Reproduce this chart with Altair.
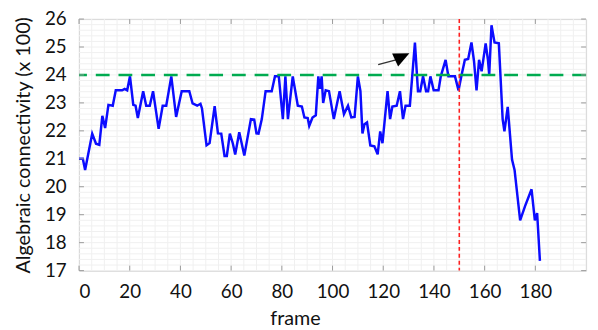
import altair as alt
import pandas as pd

frames = [0, 1.5, 2.4, 5.2, 6.7, 8, 9.2, 10.3, 11.6, 13.3, 14.5, 17, 18, 19, 20.1, 21.4, 22.3, 23.2,
          25.3, 26.5, 27.9, 29.2, 31.4, 33, 34.4, 36.4, 38.3, 40.5, 43.5, 44.8, 46.6, 47.9, 48.5,
          50.3, 51.5, 53.5, 54.8, 56.1, 57.4, 58.3, 59.5, 60.7, 61.6, 63.2, 65.2, 67.8, 69.1, 70,
          70.8, 72.1, 73.6, 76, 77.3, 78.8, 80.4, 81.4, 82.4, 84.3, 86.3, 87.9, 88.9, 90.2, 90.8,
          92.1, 93.4, 94.4, 95, 95.7, 96.3, 97.3, 98.6, 100.5, 102.8, 104.5, 106.1, 107.4, 108.7,
          110, 111, 111.8, 112.6, 113.6, 114.9, 116.5, 117.8, 118.8, 119.7, 121.7, 122.7, 123.6,
          125.3, 126.6, 127.8, 128.8, 130.5, 132.5, 133.7, 134.6, 135.7, 136.9, 137.7, 138.6,
          139.9, 141.8, 142.7, 144.6, 145.7, 148.3, 149.7, 150.8, 152.2, 153.5, 154.8, 155.8,
          156.8, 157.8, 158.8, 160.4, 161.3, 161.8, 162.7, 163.9, 165.6, 167.1, 167.8, 169.1,
          170.8, 171.8, 174, 175.9, 178.5, 179.8, 180.7, 181.8]
values = [21.0, 21.0, 20.6, 21.9, 21.54, 21.5, 22.54, 22.1, 22.93, 22.9, 23.45, 23.45, 23.5, 23.45,
          23.95, 22.93, 22.9, 22.46, 23.42, 22.9, 22.9, 23.42, 22.07, 22.9, 22.9, 23.95, 22.5,
          23.42, 23.42, 22.98, 22.9, 22.97, 22.8, 21.48, 21.56, 22.88, 21.91, 21.9, 21.1, 21.1,
          21.9, 21.54, 21.15, 21.95, 21.12, 22.42, 22.4, 21.91, 21.9, 22.42, 23.42, 23.42, 23.95,
          23.95, 22.42, 23.95, 22.42, 23.95, 22.9, 22.87, 22.48, 22.46, 22.18, 22.48, 22.56,
          23.95, 23.5, 23.95, 23.0, 23.45, 23.42, 22.42, 23.42, 22.6, 22.9, 22.48, 22.5, 23.95,
          23.42, 21.91, 22.24, 22.3, 21.48, 21.45, 21.16, 21.98, 21.56, 23.42, 22.42, 22.87,
          22.9, 23.42, 22.42, 22.9, 22.9, 25.16, 23.42, 23.42, 23.95, 23.42, 23.42, 23.95,
          23.45, 23.45, 23.95, 24.54, 23.95, 23.95, 23.45, 23.95, 24.54, 24.57, 25.16, 24.5,
          23.45, 24.54, 24.13, 25.13, 24.54, 24.0, 25.78, 25.16, 25.13, 22.42, 21.98, 22.86,
          20.97, 20.6, 18.8, 19.3, 19.91, 18.8, 19.06, 17.35]

threshold = [24]
event_frame = [150]
arrow_shaft_x = [118.0, 125.0]
arrow_shaft_y = [24.37, 24.54]
arrow_head_x = [127.5]
arrow_head_y = [24.655]

x_ticks = [0, 20, 40, 60, 80, 100, 120, 140, 160, 180]
y_ticks = [17, 18, 19, 20, 21, 22, 23, 24, 25, 26]
x_grid = list(range(0, 201, 5))
y_grid = [round(17 + 0.2 * k, 1) for k in range(46)]

FONT = "Lato"
xs = alt.Scale(domain=[0, 200], nice=False, zero=False)
ys = alt.Scale(domain=[17, 26], nice=False, zero=False)

x_axis = alt.Axis(values=x_ticks, grid=False, ticks=False, domain=False, labelOverlap=False,
                  labelFont=FONT, labelFontSize=19, labelColor="#111", labelPadding=12,
                  title="frame", titleFont=FONT, titleFontSize=20, titleFontWeight="normal",
                  titleColor="#111", titleX=219, titleY=55, titleBaseline="alphabetic")
y_axis = alt.Axis(values=y_ticks, grid=False, ticks=False, domain=False, labelOverlap=False,
                  labelFont=FONT, labelFontSize=19, labelColor="#111", labelPadding=13,
                  title="Algebraic connectivity (x 100)", titleFont=FONT, titleFontSize=20,
                  titleFontWeight="normal", titleColor="#111", titleX=-56, titleY=127.5,
                  titleAngle=-90, titleBaseline="middle", titleAlign="center")


def X(field):
    return alt.X(field, type="quantitative", scale=xs, axis=x_axis, title="frame")


def Y(field):
    return alt.Y(field, type="quantitative", scale=ys, axis=y_axis,
                 title="Algebraic connectivity (x 100)")


df = pd.DataFrame({"frame": frames, "value": values})

grid_col = "#f0f0f0"
gx = alt.Chart(pd.DataFrame({"g": x_grid})).mark_rule(color=grid_col, strokeWidth=1).encode(
    x=X("g"))
gy = alt.Chart(pd.DataFrame({"g": y_grid})).mark_rule(color=grid_col, strokeWidth=1).encode(
    y=Y("g"))

base = alt.Chart(df).mark_line(color="#0c0cff", strokeWidth=2.5, clip=True).encode(
    x=X("frame"), y=Y("value"))

tick_col = "#9a9a9a"
xt = pd.DataFrame({"t": x_ticks})
yt = pd.DataFrame({"t": y_ticks})
xtb = alt.Chart(xt).mark_rule(color=tick_col, strokeWidth=1).encode(
    x=X("t"), y=alt.value(255), y2=alt.value(250))
xtt = alt.Chart(xt).mark_rule(color=tick_col, strokeWidth=1).encode(
    x=X("t"), y=alt.value(0), y2=alt.value(5))
ytl = alt.Chart(yt).mark_rule(color=tick_col, strokeWidth=1).encode(
    y=Y("t"), x=alt.value(0), x2=alt.value(5))
ytr = alt.Chart(yt).mark_rule(color=tick_col, strokeWidth=1).encode(
    y=Y("t"), x=alt.value(514), x2=alt.value(509))

hline = alt.Chart(pd.DataFrame({"v": threshold})).mark_rule(
    color="#00ab50", strokeWidth=2.6, strokeDash=[14, 9]).encode(y=Y("v"))
vline = alt.Chart(pd.DataFrame({"v": event_frame})).mark_rule(
    color="#ff2020", strokeWidth=1.6, strokeDash=[4, 3]).encode(x=X("v"))

shaft = alt.Chart(pd.DataFrame({"x": arrow_shaft_x, "y": arrow_shaft_y})).mark_line(
    color="#333333", strokeWidth=1.5).encode(x=X("x"), y=Y("y"))
head = alt.Chart(pd.DataFrame({"x": arrow_head_x, "y": arrow_head_y})).mark_point(
    shape="M1,0L-1,-0.9L-1,0.9Z", filled=True, color="#000000", opacity=1, size=256,
    angle=335).encode(x=X("x"), y=Y("y"))

chart = alt.layer(gx, gy, base, hline, vline, xtb, xtt, ytl, ytr, shaft, head).properties(
    width=514, height=255,
    autosize=alt.AutoSizeParams(type="none"),
    padding={"left": 72, "top": 9, "right": 4, "bottom": 57},
).configure_view(stroke="#c4c4c4", strokeWidth=1)

chart.save("out.html", embed_options={"renderer": "svg", "actions": False})
